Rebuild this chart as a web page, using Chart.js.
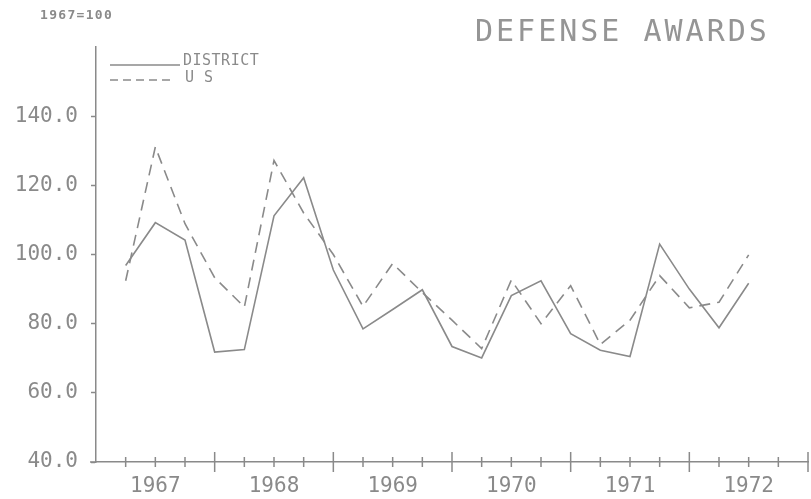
<!DOCTYPE html>
<html>
<head>
<meta charset="utf-8">
<script src="https://cdn.jsdelivr.net/npm/chart.js@4"></script>
<style>
  html, body { margin: 0; padding: 0; background: #fff; }
  #wrap { width: 811px; height: 499px; }
</style>
</head>
<body>
<div id="wrap"><canvas id="chart" width="811" height="499"></canvas></div>
<script>
// quarterly index, 1967=100
const district = [96.8, 109.2, 104.2, 71.8, 72.5, 111.2, 122.2, 95.5, 78.5, 84.1, 89.8,
                  73.4, 70.1, 88.1, 92.4, 77.1, 72.3, 70.5, 103.0, 90.0, 78.8, 91.7];
const us = [92.4, 131.1, 108.9, 93.3, 84.8, 127.2, 112.0, 100.0, 85.0, 97.4, 89.0,
            81.0, 72.8, 92.6, 80.0, 91.0, 74.0, 81.0, 93.9, 84.6, 86.2, 99.9];
const years = ['1967', '1968', '1969', '1970', '1971', '1972'];
const yTicks = [40, 60, 80, 100, 120, 140];

const INK = '#8a8a8a';
const TXT = '#8a8a8a';
const MONO = '"DejaVu Sans Mono", "Liberation Mono", monospace';

const toPts = arr => arr.map((v, i) => ({ x: i, y: v }));

// extra text + legend + crossing x ticks
const decor = {
  id: 'decor',
  afterDraw(chart) {
    const ctx = chart.ctx;
    const xs = chart.scales.x;
    const yb = chart.chartArea.bottom;
    const xl = chart.chartArea.left;
    ctx.save();
    ctx.strokeStyle = INK;
    ctx.lineWidth = 1.5;
    // axis stub left of the y axis
    ctx.beginPath();
    ctx.moveTo(xl - 6, yb); ctx.lineTo(xl, yb);
    ctx.stroke();
    // x tick marks crossing the axis
    for (let i = 0; i <= 23; i++) {
      const px = xs.getPixelForValue(i);
      const major = (i % 4 === 3);
      ctx.beginPath();
      ctx.moveTo(px, yb - (major ? 10 : 5));
      ctx.lineTo(px, yb + (major ? 10 : 5));
      ctx.stroke();
    }
    // legend
    ctx.beginPath();
    ctx.moveTo(110, 65); ctx.lineTo(180, 65);
    ctx.stroke();
    ctx.setLineDash([8, 5]);
    ctx.beginPath();
    ctx.moveTo(110, 80); ctx.lineTo(172, 80);
    ctx.stroke();
    ctx.setLineDash([]);

    ctx.fillStyle = TXT;
    ctx.textBaseline = 'middle';
    ctx.textAlign = 'left';
    ctx.letterSpacing = '0.5px';
    ctx.font = '15px ' + MONO;
    ctx.fillText('DISTRICT', 183, 61);
    ctx.fillText('U S', 185, 78);

    ctx.letterSpacing = '1.3px';
    ctx.font = 'bold 13px ' + MONO;
    ctx.fillText('1967=100', 40, 16);

    ctx.letterSpacing = '3px';
    ctx.font = '30px ' + MONO;
    ctx.fillStyle = '#959595';
    ctx.fillText('DEFENSE AWARDS', 475, 33);
    ctx.restore();
  }
};

new Chart(document.getElementById('chart'), {
  type: 'line',
  data: {
    datasets: [
      { label: 'DISTRICT', data: toPts(district), borderColor: INK, borderWidth: 1.6,
        pointRadius: 0, tension: 0, fill: false },
      { label: 'U S', data: toPts(us), borderColor: INK, borderWidth: 1.6,
        borderDash: [11, 7], pointRadius: 0, tension: 0, fill: false }
    ]
  },
  options: {
    responsive: false,
    animation: false,
    layout: { padding: { top: 47, right: 3, left: 0, bottom: 0 } },
    plugins: { legend: { display: false }, tooltip: { enabled: false } },
    scales: {
      x: {
        type: 'linear', min: -1, max: 23,
        afterFit: s => { s.height = 37; },
        grid: { display: true, drawOnChartArea: false, drawTicks: false },
        border: { display: true, color: INK, width: 1.5 },
        afterBuildTicks: s => { s.ticks = years.map((y, k) => ({ value: 1 + 4 * k })); },
        ticks: {
          autoSkip: false, maxRotation: 0, padding: 12, color: TXT,
          font: { family: MONO, size: 21 },
          callback: v => years[(v - 1) / 4]
        }
      },
      y: {
        min: 40, max: 160,
        afterFit: s => { s.width = 96; },
        afterBuildTicks: s => { s.ticks = yTicks.map(v => ({ value: v })); },
        grid: { display: true, drawOnChartArea: false, drawTicks: true, tickLength: 5,
                tickColor: INK, tickWidth: 1.5 },
        border: { display: true, color: INK, width: 1.5 },
        ticks: {
          padding: 13, color: TXT,
          font: { family: MONO, size: 21 },
          callback: v => v.toFixed(1)
        }
      }
    }
  },
  plugins: [decor]
});
</script>
</body>
</html>
